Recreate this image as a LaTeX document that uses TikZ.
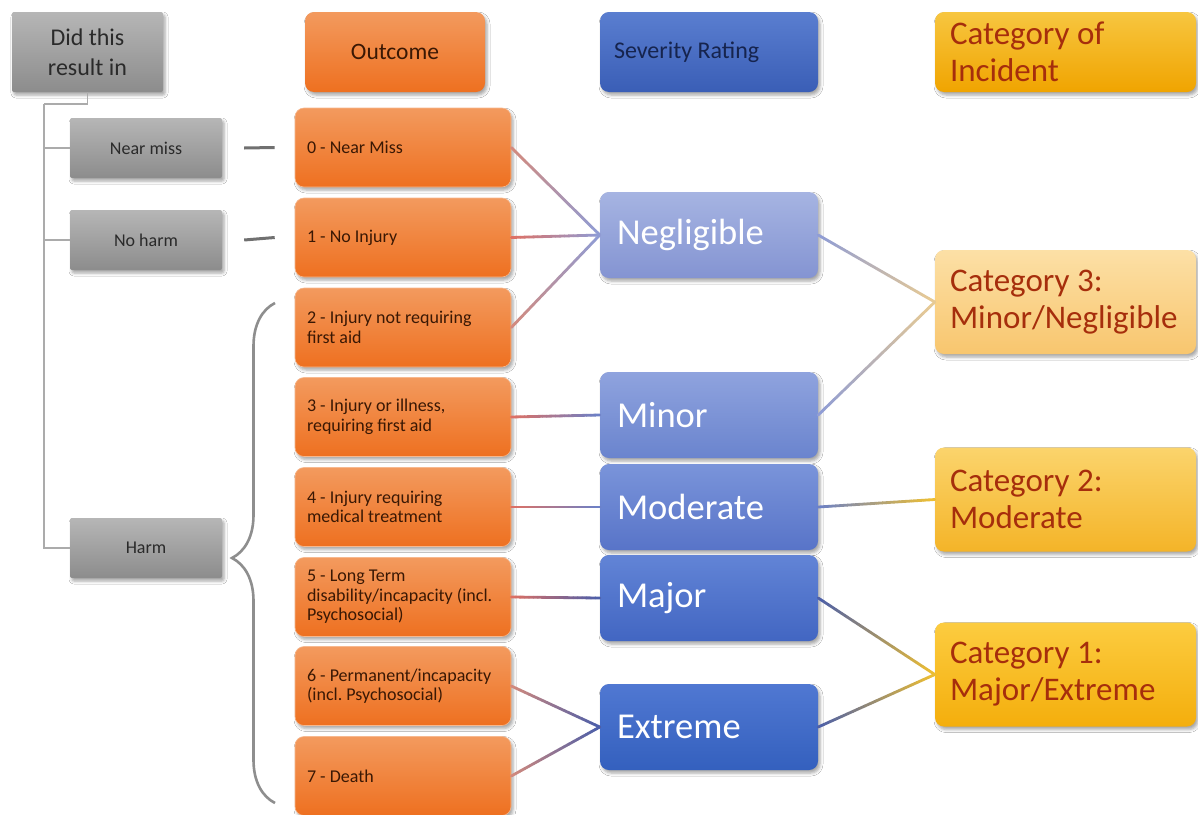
\documentclass[tikz,border=0pt]{standalone}
\usepackage{fontspec}
\setmainfont{Carlito}
\frenchspacing
\usetikzlibrary{calc,shadows.blur,decorations.pathreplacing}

\definecolor{grayT}{HTML}{B6B6B6}
\definecolor{grayB}{HTML}{8C8C8C}
\definecolor{grayTxt}{HTML}{2A2A2A}
\definecolor{orT}{HTML}{F39A5E}
\definecolor{orB}{HTML}{EE7020}
\definecolor{orTxt}{HTML}{3A1804}
\definecolor{sevHT}{HTML}{5A7ED0}
\definecolor{sevHB}{HTML}{3A5EB6}
\definecolor{sevHTxt}{HTML}{16244E}
\definecolor{negT}{HTML}{A6B4E2}
\definecolor{negB}{HTML}{8494D2}
\definecolor{minT}{HTML}{8FA3DE}
\definecolor{minB}{HTML}{6A84CE}
\definecolor{modT}{HTML}{7A94DA}
\definecolor{modB}{HTML}{5874C8}
\definecolor{majT}{HTML}{6284D6}
\definecolor{majB}{HTML}{4266C2}
\definecolor{extT}{HTML}{5078D2}
\definecolor{extB}{HTML}{3460BE}
\definecolor{catHT}{HTML}{F7C640}
\definecolor{catHB}{HTML}{F0A400}
\definecolor{catTxt}{HTML}{A62E0C}
\definecolor{c3T}{HTML}{FCE0A6}
\definecolor{c3B}{HTML}{F8C66E}
\definecolor{c2T}{HTML}{FBD46C}
\definecolor{c2B}{HTML}{F4B428}
\definecolor{c1T}{HTML}{FCCC40}
\definecolor{c1B}{HTML}{F4AE0C}
\definecolor{treeC}{HTML}{ABABAB}
\definecolor{dashC}{HTML}{707070}
\definecolor{braceC}{HTML}{8E8E8E}
\definecolor{lnRed}{HTML}{E07062}
\definecolor{lnSal}{HTML}{D48A7C}
\definecolor{lnNeg}{HTML}{8E9CD6}
\definecolor{lnBlu}{HTML}{6A80C8}
\definecolor{lnDark}{HTML}{4A5EAA}
\definecolor{lnTan}{HTML}{EACB92}
\definecolor{lnGold}{HTML}{F0C030}

\tikzset{
  box/.style={rounded corners=9pt, inner sep=0pt,
    blur shadow={shadow xshift=2pt, shadow yshift=-3pt, shadow blur radius=3pt, shadow opacity=35}},
  graybox/.style={box, rounded corners=2pt, top color=grayT, bottom color=grayB, text=grayTxt,
    minimum width=152pt, minimum height=60pt, align=flush center, font=\fontsize{18}{21}\selectfont},
  headgray/.style={graybox, minimum width=151pt, minimum height=80pt, font=\fontsize{24}{30}\selectfont},
  outbox/.style={box, top color=orT, bottom color=orB, draw=orT!70!white, line width=0.6pt, text=orTxt,
    minimum width=216pt, minimum height=79pt, text width=192pt, align=flush left,
    font=\fontsize{18}{19.5}\selectfont},
  outhead/.style={box, top color=orT, bottom color=orB, text=orTxt,
    minimum width=180pt, minimum height=80pt, align=flush center, font=\fontsize{23.5}{29}\selectfont},
  sevbox/.style={box, text=white, minimum width=218pt, minimum height=86pt, text width=184pt,
    align=flush left, font=\fontsize{36.5}{40}\selectfont},
  sevhead/.style={box, top color=sevHT, bottom color=sevHB, text=sevHTxt,
    minimum width=218pt, minimum height=80pt, text width=190pt, align=flush left,
    font=\fontsize{24}{28}\selectfont},
  catbox/.style={box, text=catTxt, minimum width=261pt, minimum height=104pt, text width=231pt,
    align=flush left, font=\fontsize{33}{37}\selectfont},
  cathead/.style={catbox, top color=catHT, bottom color=catHB, minimum height=80pt},
  tree/.style={draw=treeC, line width=1.2pt},
  dashline/.style={draw=dashC, line width=3pt},
  conn/.style={line width=2.8pt, line cap=round},
  bracestyle/.style={draw=braceC, line width=2.6pt, decorate,
    decoration={brace, amplitude=43pt, aspect=0.49}}
}

\newcommand{\gradconn}[4]{%
  \foreach \i in {0,...,19}{%
    \pgfmathsetmacro{\ta}{\i/20}%
    \pgfmathsetmacro{\tb}{(\i+1)/20}%
    \pgfmathtruncatemacro{\pc}{100-5*\i-2}%
    \draw[conn, draw=#3!\pc!#4] ($(#1)!\ta!(#2)$) -- ($(#1)!\tb!(#2)$);
  }}

\begin{document}
\begin{tikzpicture}[x=1pt, y=-1pt]
\useasboundingbox (0,0) rectangle (1198,814);
\fill[white] (0,0) rectangle (1198,814);

% headers
\node[headgray] (q) at (87.5,52) {Did this\\result in};
\node[outhead] (hout) at (395,52) {Outcome};
\node[sevhead] (hsev) at (709,52) {Severity Rating};
\node[cathead] (hcat) at (1065.5,52) {Category of\\Incident};

% gray options
\node[graybox] (nm) at (146,148) {Near miss};
\node[graybox] (nh) at (146,240) {No harm};
\node[graybox] (harm) at (146,548) {Harm};

% outcomes
\node[outbox] (o0) at (403,147.5) {0 - Near Miss};
\node[outbox] (o1) at (403,237.5) {1 - No Injury};
\node[outbox] (o2) at (403,327.5) {2 - Injury not requiring\\first aid};
\node[outbox] (o3) at (403,417) {3 - Injury or illness,\\requiring first aid};
\node[outbox] (o4) at (403,507) {4 - Injury requiring\\medical treatment};
\node[outbox] (o5) at (403,597) {5 - Long Term\\disability/incapacity (incl.\\Psychosocial)};
\node[outbox] (o6) at (403,686) {6 - Permanent/incapacity\\(incl. Psychosocial)};
\node[outbox] (o7) at (403,776) {7 - Death};

% severity
\node[sevbox, top color=negT, bottom color=negB] (neg) at (709,235) {Negligible};
\node[sevbox, top color=minT, bottom color=minB] (min) at (709,415) {Minor};
\node[sevbox, top color=modT, bottom color=modB] (mod) at (709,507) {Moderate};
\node[sevbox, top color=majT, bottom color=majB] (maj) at (709,598) {Major};
\node[sevbox, top color=extT, bottom color=extB] (ext) at (709,727) {Extreme};

% categories
\node[catbox, top color=c3T, bottom color=c3B] (c3) at (1065.5,302) {Category 3:\\Minor/Negligible};
\node[catbox, top color=c2T, bottom color=c2B] (c2) at (1065.5,499.5) {Category 2:\\Moderate};
\node[catbox, top color=c1T, bottom color=c1B] (c1) at (1065.5,674.5) {Category 1:\\Major/Extreme};

% tree
\coordinate (trunk) at (44,104);
\draw[tree] (q.south) |- (trunk);
\draw[tree] (trunk) |- (harm.west);
\draw[tree] (trunk |- nm.west) -- (nm.west);
\draw[tree] (trunk |- nh.west) -- (nh.west);

% short dashes
\draw[dashline] ($(nm.east)+(22,0)$) -- ($(o0.west)+(-20,0)$);
\draw[dashline] ($(nh.east)+(22,0)$) -- ($(o1.west)+(-20,0)$);

% brace
\coordinate (bBot) at (275,803);
\coordinate (bTop) at (275,303);
\draw[bracestyle] (bBot) -- (bTop);

% connectors outcome -> severity
\gradconn{o0.east}{neg.west}{lnSal}{lnNeg}
\gradconn{o1.east}{neg.west}{lnRed}{lnNeg}
\gradconn{o2.east}{neg.west}{lnSal}{lnNeg}
\gradconn{o3.east}{min.west}{lnRed}{lnBlu}
\gradconn{o4.east}{mod.west}{lnRed}{lnBlu}
\gradconn{o5.east}{maj.west}{lnRed}{lnDark}
\gradconn{o6.east}{ext.west}{lnSal}{lnDark}
\gradconn{o7.east}{ext.west}{lnSal}{lnDark}

% connectors severity -> category
\gradconn{neg.east}{c3.west}{lnNeg}{lnTan}
\gradconn{min.east}{c3.west}{lnNeg}{lnTan}
\gradconn{mod.east}{c2.west}{lnBlu}{lnGold}
\gradconn{maj.east}{c1.west}{lnDark}{lnGold}
\gradconn{ext.east}{c1.west}{lnDark}{lnGold}
\end{tikzpicture}
\end{document}
